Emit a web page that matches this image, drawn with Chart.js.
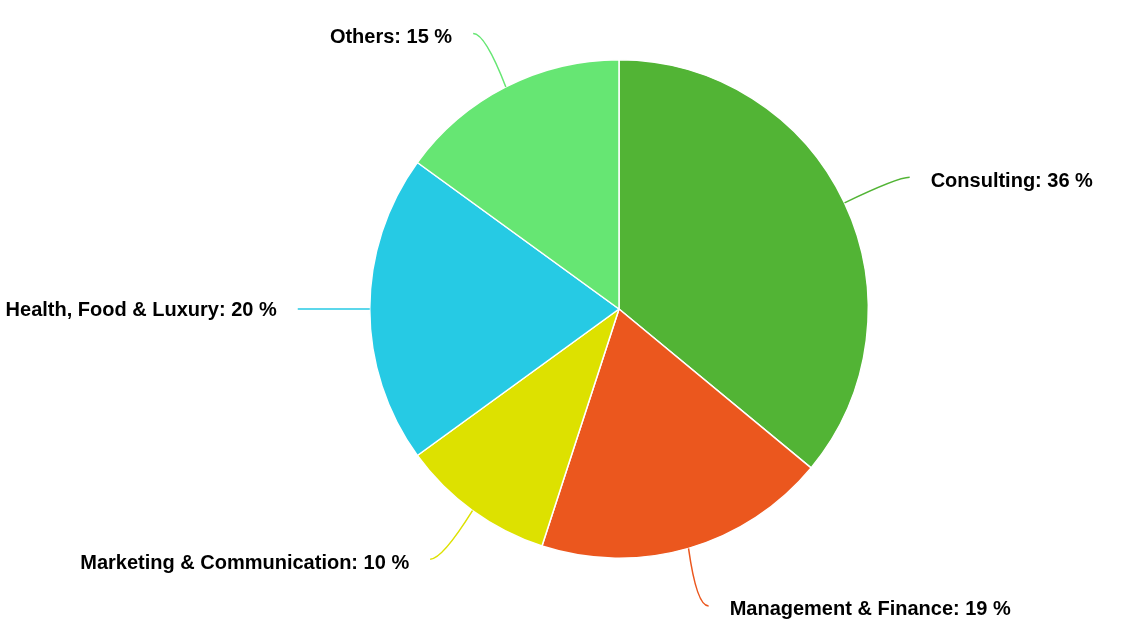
<!DOCTYPE html>
<html>
<head>
<meta charset="utf-8">
<script src="https://cdn.jsdelivr.net/npm/chart.js"></script>
<style>
  html, body { margin: 0; padding: 0; background: #fff; }
  #wrap { width: 1148px; height: 620px; }
</style>
</head>
<body>
<div id="wrap"><canvas id="pie"></canvas></div>
<script>
// sectors, clockwise from 12 o'clock
const sectors = ['Consulting', 'Management & Finance', 'Marketing & Communication', 'Health, Food & Luxury', 'Others'];
const shares = [36, 19, 10, 20, 15];
const sliceColors = ['#52b435', '#eb571e', '#dde100', '#26cae4', '#66e673'];

// labels with leader lines, drawn after the pie
const leaderLabels = {
  id: 'leaderLabels',
  afterDatasetsDraw(chart) {
    const ctx = chart.ctx;
    const arcs = chart.getDatasetMeta(0).data;
    ctx.save();
    ctx.font = 'bold 20px "Liberation Sans", Arial, sans-serif';
    ctx.textBaseline = 'middle';
    arcs.forEach((arc, i) => {
      const mid = (arc.startAngle + arc.endAngle) / 2;
      const cx = arc.x, cy = arc.y, r = arc.outerRadius;
      const sx = cx + Math.cos(mid) * r, sy = cy + Math.sin(mid) * r;
      const ex = cx + Math.cos(mid) * (r + 72);
      const ey = cy + Math.sin(mid) * (r + 60);
      const right = Math.cos(mid) >= 0;
      const dir = right ? 1 : -1;
      const flat = Math.abs(ey - sy) < 2;
      ctx.strokeStyle = sliceColors[i];
      ctx.lineWidth = 1.5;
      ctx.beginPath();
      ctx.moveTo(sx, sy);
      if (flat) {
        ctx.lineTo(ex, sy);
      } else {
        ctx.quadraticCurveTo(ex - dir * 12, ey, ex, ey);
      }
      ctx.stroke();
      ctx.fillStyle = '#000';
      ctx.textAlign = right ? 'left' : 'right';
      const ty = flat ? sy + 1 : ey + 4;
      ctx.fillText(sectors[i] + ': ' + shares[i] + ' %', ex + dir * 21, ty);
    });
    ctx.restore();
  }
};

new Chart(document.getElementById('pie'), {
  type: 'pie',
  data: {
    labels: sectors,
    datasets: [{
      data: shares,
      backgroundColor: sliceColors,
      borderColor: '#ffffff',
      borderWidth: 1.5
    }]
  },
  options: {
    responsive: true,
    maintainAspectRatio: false,
    animation: false,
    layout: { padding: { top: 59, bottom: 61, left: 100, right: 10 } },
    plugins: {
      legend: { display: false },
      tooltip: { enabled: false }
    }
  },
  plugins: [leaderLabels]
});
</script>
</body>
</html>
